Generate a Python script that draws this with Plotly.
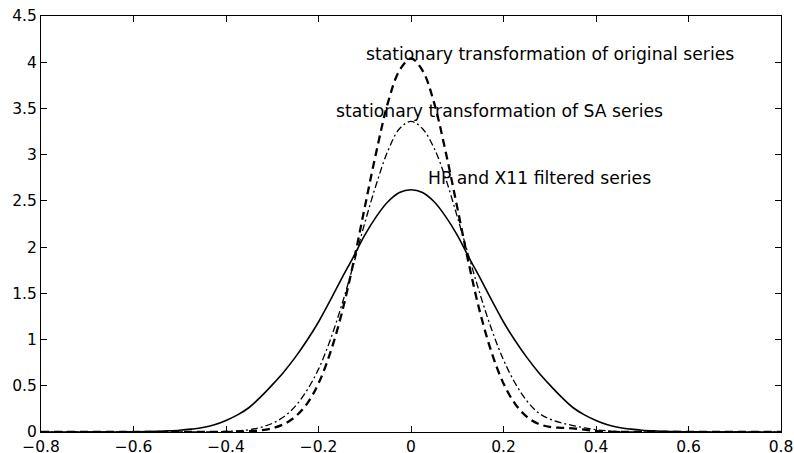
import plotly.graph_objects as go

x_grid = [-0.8, -0.775, -0.75, -0.725, -0.7, -0.675, -0.65, -0.625, -0.6, -0.575,
          -0.55, -0.525, -0.5, -0.475, -0.45, -0.425, -0.4, -0.375, -0.35, -0.325,
          -0.3, -0.275, -0.25, -0.225, -0.2, -0.175, -0.15, -0.125, -0.1, -0.075,
          -0.05, -0.025, 0.0, 0.025, 0.05, 0.075, 0.1, 0.125, 0.15, 0.175,
          0.2, 0.225, 0.25, 0.275, 0.3, 0.325, 0.35, 0.375, 0.4, 0.425,
          0.45, 0.475, 0.5, 0.525, 0.55, 0.575, 0.6, 0.625, 0.65, 0.675,
          0.7, 0.725, 0.75, 0.775, 0.8]

# HP and X11 filtered series (solid)
hp_x11 = [0, 0, 0, 0, 0, 0, 0, 0.001, 0.002, 0.004,
          0.007, 0.012, 0.019, 0.031, 0.048, 0.078, 0.125, 0.185, 0.265, 0.38,
          0.51, 0.65, 0.81, 0.99, 1.19, 1.42, 1.66, 1.89, 2.13, 2.33,
          2.49, 2.59, 2.62, 2.59, 2.49, 2.33, 2.13, 1.89, 1.66, 1.42,
          1.19, 0.99, 0.81, 0.65, 0.51, 0.38, 0.265, 0.185, 0.125, 0.078,
          0.048, 0.031, 0.019, 0.012, 0.007, 0.004, 0.002, 0.001, 0, 0,
          0, 0, 0, 0, 0]

# stationary transformation of original series (dashed)
orig = [0, 0, 0, 0, 0, 0, 0, 0, 0, 0,
        0, 0, 0, 0, 0, 0, 0.001, 0.003, 0.008, 0.018,
        0.041, 0.085, 0.167, 0.305, 0.525, 0.85, 1.28, 1.82, 2.43, 3.03,
        3.56, 3.91, 4.04, 3.91, 3.56, 3.03, 2.43, 1.82, 1.28, 0.85,
        0.525, 0.305, 0.167, 0.09, 0.055, 0.045, 0.04, 0.025, 0.01, 0.003,
        0, 0, 0, 0, 0, 0, 0, 0, 0, 0,
        0, 0, 0, 0, 0]

# stationary transformation of SA series (dash-dot)
sa = [0, 0, 0, 0, 0, 0, 0, 0, 0, 0,
      0, 0, 0, 0, 0, 0.002, 0.006, 0.012, 0.025, 0.050,
      0.093, 0.165, 0.28, 0.45, 0.68, 0.99, 1.37, 1.80, 2.26, 2.68,
      3.04, 3.28, 3.36, 3.28, 3.07, 2.74, 2.33, 1.90, 1.48, 1.10,
      0.78, 0.53, 0.34, 0.21, 0.14, 0.10, 0.07, 0.045, 0.025, 0.012,
      0.005, 0.002, 0, 0, 0, 0, 0, 0, 0, 0,
      0, 0, 0, 0, 0]

labels = ["stationary transformation of original series",
          "stationary transformation of SA series",
          "HP and X11 filtered series"]
label_x = [-0.095, -0.161, 0.038]
label_y = [4.09, 3.47, 2.745]

x_ticks = [-0.8, -0.6, -0.4, -0.2, 0, 0.2, 0.4, 0.6, 0.8]
y_ticks = [0, 0.5, 1, 1.5, 2, 2.5, 3, 3.5, 4, 4.5]

FONT = "DejaVu Sans, Liberation Sans, Arial"

fig = go.Figure()
fig.add_trace(go.Scatter(x=x_grid, y=hp_x11, mode="lines", line_shape="spline",
                         line=dict(color="black", width=1.6), showlegend=False))
fig.add_trace(go.Scatter(x=x_grid, y=sa, mode="lines", line_shape="spline",
                         line=dict(color="black", width=1.3, dash="7px,3px,2px,3px"),
                         showlegend=False))
fig.add_trace(go.Scatter(x=x_grid, y=orig, mode="lines", line_shape="spline",
                         line=dict(color="black", width=2.3, dash="8px,5px"),
                         showlegend=False))

for t, lx, ly in zip(labels, label_x, label_y):
    fig.add_annotation(x=lx, y=ly, text=t, showarrow=False, xanchor="left",
                       yanchor="middle", xshift=-3,
                       font=dict(size=17.2, color="black", family=FONT))

axis_common = dict(showline=True, linecolor="black", linewidth=1.2, mirror="ticks",
                   ticks="inside", ticklen=6, tickcolor="black", showgrid=False,
                   zeroline=False, automargin=False,
                   tickfont=dict(size=15.5, color="black", family=FONT))

fig.update_xaxes(range=[-0.8, 0.8], tickvals=x_ticks,
                 ticktext=[("\u2212" if v < 0 else "") + ("%g" % abs(v)) for v in x_ticks],
                 **axis_common)
fig.update_yaxes(range=[0, 4.5], tickvals=y_ticks,
                 ticktext=["%g" % v for v in y_ticks], **axis_common)

fig.update_layout(width=794, height=453, margin=dict(l=41, r=13, t=16, b=21),
                  plot_bgcolor="white", paper_bgcolor="white")

fig.write_html("out.html")
